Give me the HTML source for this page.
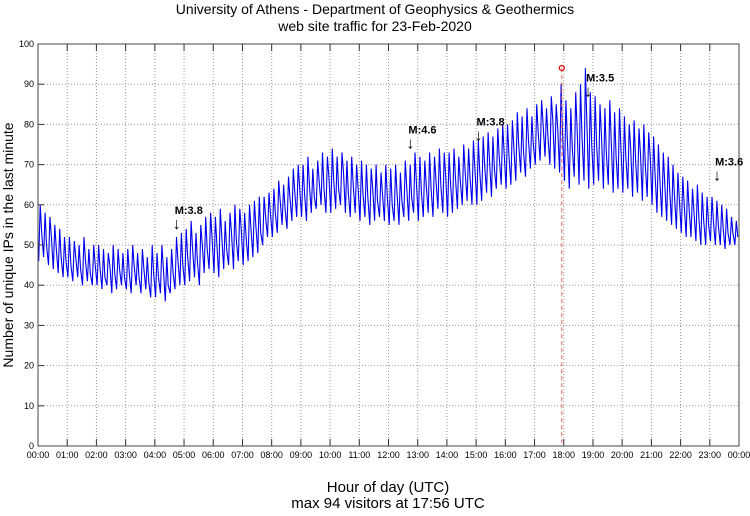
<!DOCTYPE html>
<html><head><meta charset="utf-8"><style>
body{margin:0;background:#fff;}
svg text{font-family:"Liberation Sans","DejaVu Sans",sans-serif;}
</style></head><body>
<svg width="750" height="511" viewBox="0 0 750 511" xmlns="http://www.w3.org/2000/svg">
<text x="375" y="14" font-size="14" text-anchor="middle">University of Athens - Department of Geophysics &amp; Geothermics</text>
<text x="375" y="31" font-size="14" text-anchor="middle">web site traffic for 23-Feb-2020</text>
<g id="grid"></g>
<g id="series"></g>
<g id="axes"></g>
<g id="quakes"></g>
<text transform="translate(13,245) rotate(-90)" font-size="14" text-anchor="middle">Number of unique IPs in the last minute</text>
<text x="388" y="492" font-size="15" text-anchor="middle">Hour of day (UTC)</text>
<text x="388" y="508" font-size="15" text-anchor="middle">max 94 visitors at 17:56 UTC</text>
</svg>
<script>
const yTicks=[0,10,20,30,40,50,60,70,80,90,100];
const xTickLabels=["00:00","01:00","02:00","03:00","04:00","05:00","06:00","07:00","08:00","09:00","10:00","11:00","12:00","13:00","14:00","15:00","16:00","17:00","18:00","19:00","20:00","21:00","22:00","23:00","00:00"];
const lows=[46,47,45,44,43,42,42,41,42,40,41,40,40,39,40,38,39,40,39,38,40,38,39,37,37,38,36,38,39,40,40,41,42,40,43,44,43,42,44,45,44,46,45,46,47,48,50,52,52,53,55,54,56,57,57,56,58,59,60,58,58,59,60,58,57,58,56,57,55,56,57,56,55,56,55,57,56,58,56,57,58,57,59,58,57,58,59,60,61,60,60,61,63,62,64,65,64,65,66,68,67,69,70,71,72,70,69,68,66,64,67,65,66,64,65,66,64,65,63,64,63,64,62,63,61,62,60,58,57,56,55,54,53,52,52,51,50,50,51,50,50,49,50,50];
const highs=[60,58,57,55,54,52,52,51,50,52,49,50,50,49,48,50,49,48,49,50,48,49,47,50,48,50,47,49,52,53,54,56,53,55,57,58,57,59,56,58,60,59,58,60,61,62,62,63,64,66,65,67,69,70,70,72,69,71,73,72,74,72,73,71,72,70,71,70,69,70,68,70,69,70,68,71,70,73,72,71,73,72,74,73,73,74,72,75,74,76,76,77,78,77,79,80,80,81,83,82,84,82,85,86,84,87,85,90,86,84,88,90,94,88,87,85,84,86,83,84,82,80,81,79,80,78,77,75,73,72,70,68,67,66,64,65,63,62,62,61,60,59,57,56];
const mids=[53,50,52,49,47,46,45,47,44,46,43,45,44,42,45,43,44,42,43,45,42,44,41,43,42,44,40,43,46,45,47,49,46,50,49,52,50,52,49,53,51,54,52,54,55,53,57,58,58,61,59,62,63,64,63,65,62,66,64,67,66,64,68,63,65,64,63,62,64,61,63,62,60,63,61,64,62,65,63,65,64,66,65,67,65,67,66,68,67,69,68,70,71,69,72,73,72,74,75,73,76,75,78,80,77,81,79,78,76,74,79,77,80,75,75,77,73,76,72,74,72,74,71,73,70,72,68,66,65,64,62,61,60,59,58,57,56,55,56,55,54,53,53,52];
const maxMinute=17*60+56, maxValue=94;
const quakeMinutes=[285,765,905,1130,1395];
const quakeLabels=["M:3.8","M:4.6","M:3.8","M:3.5","M:3.6"];
const quakeLevels=[54,74,76,87,66];

const L=38,R=739,T=44,B=446,NS="http://www.w3.org/2000/svg";
const xs=m=>L+(R-L)*m/1440, ys=v=>B-(B-T)*v/100;
function mk(tag,attrs,parent){const e=document.createElementNS(NS,tag);for(const k in attrs)e.setAttribute(k,attrs[k]);document.getElementById(parent).appendChild(e);return e;}
yTicks.forEach((v,i)=>{
 if(v>0&&v<100){const g=mk('line',{x1:L,x2:R,y1:ys(v),y2:ys(v),stroke:'#999','stroke-dasharray':'1,2'},'grid');
 
 }
 const t=mk('line',{x1:L,x2:L+6,y1:ys(v),y2:ys(v),stroke:'#333'},'axes');
 
 
 const lb=mk('text',{x:L-4,y:ys(v)+3,'font-size':9,'text-anchor':'end'},'axes');lb.textContent=v;
 
 
});
xTickLabels.forEach((s,i)=>{
 const x=xs(i*60);
 if(i>0&&i<24){const g=mk('line',{x1:x,x2:x,y1:T,y2:B,stroke:'#999','stroke-dasharray':'1,2'},'grid');
 
 }
 const t1=mk('line',{x1:x,x2:x,y1:B,y2:B-7,stroke:'#333'},'axes');
 
 
 const t2=mk('line',{x1:x,x2:x,y1:T,y2:T+7,stroke:'#333'},'axes');
 
 
 const lb=mk('text',{x:x,y:B+12,'font-size':9,'text-anchor':'middle'},'axes');lb.textContent=s;
 
 
});
const fr=mk('rect',{x:L,y:T,width:R-L,height:B-T,fill:'none',stroke:'#444'},'axes');


let pts=[];
lows.forEach((lo,i)=>{
 pts.push(xs(i*10+1.5).toFixed(1)+','+ys(lo).toFixed(1));
 pts.push(xs(i*10+4.5).toFixed(1)+','+ys(highs[i]).toFixed(1));
 pts.push(xs(i*10+7.5).toFixed(1)+','+ys(mids[i]).toFixed(1));
});
const pl=mk('polyline',{points:pts.join(' '),fill:'none',stroke:'#0000ee','stroke-width':1.1},'series');


const ml=mk('line',{x1:xs(maxMinute),x2:xs(maxMinute),y1:ys(maxValue),y2:B,stroke:'#f06060','stroke-dasharray':'4,3'},'series');


const mc=mk('circle',{cx:xs(maxMinute),cy:ys(maxValue),r:2.5,fill:'none',stroke:'#e00','stroke-width':1.2},'series');


quakeMinutes.forEach((m,i)=>{
 const x=xs(m),y=ys(quakeLevels[i]);
 const a=mk('text',{x:x,y:y,'font-size':16,'text-anchor':'middle'},'quakes');a.textContent='↓';
 
 
 const t=mk('text',{x:x-2,y:y-15,'font-size':11,'font-weight':'bold'},'quakes');t.textContent=quakeLabels[i];
 
 
});
</script>
</body></html>
